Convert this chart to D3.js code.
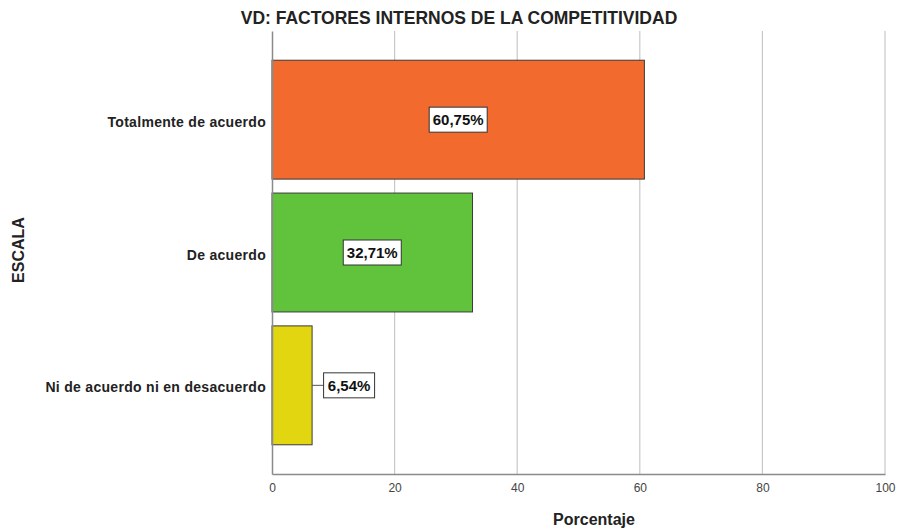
<!DOCTYPE html>
<html>
<head>
<meta charset="utf-8">
<script src="https://cdn.jsdelivr.net/npm/d3@7"></script>
<style>
  body { margin: 0; background: #fff; }
  text { font-family: "Liberation Sans", Arial, sans-serif; }
</style>
</head>
<body>
<svg id="chart"></svg>
<script>
// VD: factores internos - horizontal bars

let categories = ['Totalmente de acuerdo', 'De acuerdo', 'Ni de acuerdo ni en desacuerdo'];
let percents = [60.75, 32.71, 6.54];
let labels = ['60,75%', '32,71%', '6,54%'];
let barColors = ['#f26a2d', '#60c33b', '#e2d610'];
let xTicks = [0, 20, 40, 60, 80, 100];

let w = 905;
let h = 531;
let mLeft = 272, mRight = 885, mTop = 31, mBottom = 474;

let svg = d3.select('#chart')
  .attr('width', w)
  .attr('height', h);

let xScale = d3.scaleLinear()
  .domain([0, 100])
  .range([mLeft, mRight]);

let yScale = d3.scaleBand()
  .domain(categories)
  .range([mTop, mBottom])
  .paddingInner(0.105)
  .paddingOuter(0.22);

// grid
svg.selectAll('line.grid')
  .data(xTicks.filter(d => d > 0))
  .enter()
  .append('line')
  .attr('class', 'grid')
  .attr('x1', d => xScale(d))
  .attr('x2', d => xScale(d))
  .attr('y1', mTop)
  .attr('y2', mBottom)
  .attr('stroke', '#c8c8c8')
  .attr('stroke-width', 1.2);

// bars
svg.selectAll('rect.bar')
  .data(percents)
  .enter()
  .append('rect')
  .attr('class', 'bar')
  .attr('x', xScale(0))
  .attr('y', (d, i) => yScale(categories[i]))
  .attr('width', d => xScale(d) - xScale(0))
  .attr('height', yScale.bandwidth())
  .attr('fill', (d, i) => barColors[i])
  .attr('stroke', '#3a3a3a')
  .attr('stroke-width', 1);

// axes
let xAxis = d3.axisBottom(xScale).tickValues(xTicks).tickSize(0).tickPadding(9);
let xAxisGroup = svg.append('g')
  .attr('transform', `translate(0, ${mBottom})`)
  .call(xAxis);
xAxisGroup.select('.domain').attr('stroke', '#8a8a8a').attr('stroke-width', 1.5);
xAxisGroup.selectAll('text').attr('font-size', 12).attr('fill', '#444')
  .attr('font-family', '"Liberation Sans", Arial, sans-serif');

let yAxis = d3.axisLeft(yScale).tickSize(0).tickPadding(6);
let yAxisGroup = svg.append('g')
  .attr('transform', `translate(${mLeft}, 0)`)
  .call(yAxis);
yAxisGroup.select('.domain').attr('stroke', '#8a8a8a').attr('stroke-width', 1.5);
yAxisGroup.selectAll('text').attr('font-size', 14).attr('font-weight', 'bold')
  .attr('fill', '#222').attr('letter-spacing', 0.3).attr('dy', '0.5em')
  .attr('font-family', '"Liberation Sans", Arial, sans-serif');

// value labels
let boxW = 58, boxH = 25;
percents.forEach(function(d, i) {
  let cy = yScale(categories[i]) + yScale.bandwidth() / 2;
  let barW = xScale(d) - xScale(0);
  let inside = barW > boxW + 20;
  let cx = inside ? (xScale(0) + xScale(d)) / 2 : xScale(d) + 11 + 26;
  let bw = inside ? boxW : 51;
  if (!inside) {
    svg.append('line')
      .attr('x1', xScale(d)).attr('x2', cx - bw / 2)
      .attr('y1', cy).attr('y2', cy)
      .attr('stroke', '#555').attr('stroke-width', 1);
  }
  svg.append('rect')
    .attr('x', cx - bw / 2)
    .attr('y', cy - boxH / 2)
    .attr('width', bw)
    .attr('height', boxH)
    .attr('fill', '#fff')
    .attr('stroke', '#333')
    .attr('stroke-width', 1);
  svg.append('text')
    .attr('x', cx)
    .attr('y', cy + 5.5)
    .attr('text-anchor', 'middle')
    .attr('font-size', 15)
    .attr('font-weight', 'bold')
    .attr('fill', '#111')
    .text(labels[i]);
});

// titles
svg.append('text')
  .attr('x', 459)
  .attr('y', 24)
  .attr('text-anchor', 'middle')
  .attr('font-size', 17.5)
  .attr('font-weight', 'bold')
  .attr('fill', '#222')
  .text('VD: FACTORES INTERNOS DE LA COMPETITIVIDAD');

svg.append('text')
  .attr('x', 594)
  .attr('y', 525)
  .attr('text-anchor', 'middle')
  .attr('font-size', 16)
  .attr('font-weight', 'bold')
  .attr('fill', '#222')
  .text('Porcentaje');

svg.append('text')
  .attr('transform', 'translate(24, 250) rotate(-90)')
  .attr('text-anchor', 'middle')
  .attr('font-size', 16)
  .attr('font-weight', 'bold')
  .attr('fill', '#222')
  .text('ESCALA');
</script>
</body>
</html>
